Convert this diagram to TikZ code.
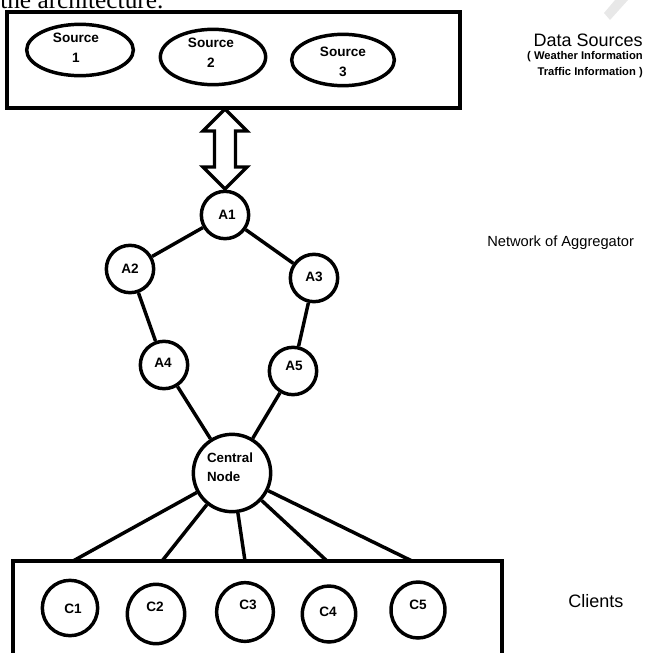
\documentclass[tikz,border=0pt]{standalone}
\usepackage{fontspec}
\setmainfont{Liberation Sans}
\newfontfamily\serifcut{Liberation Serif}
\usetikzlibrary{shapes.geometric,calc}
\begin{document}
\begin{tikzpicture}[x=0.75pt,y=-0.75pt,
  lw/.style={line width=2.6pt},
  box/.style={draw,lw,rectangle,inner sep=0pt},
  oval/.style={draw,lw,ellipse,inner sep=0pt},
  agg/.style={draw,lw,circle,inner sep=0pt,minimum size=35.5pt},
  client/.style={draw,lw,ellipse,inner sep=0pt},
  link/.style={lw},
  ntext/.style={font=\bfseries\fontsize{10.2}{15}\selectfont,align=center,inner sep=0pt},
  ltext/.style={font=\bfseries\fontsize{10}{14}\selectfont,align=left,inner sep=0pt},
  bigside/.style={font=\fontsize{13.5}{15}\selectfont,inner sep=0pt},
  midside/.style={font=\fontsize{11}{13}\selectfont,inner sep=0pt},
  smallside/.style={font=\bfseries\fontsize{8.4}{10}\selectfont,inner sep=0pt},
]
\useasboundingbox (0,0) rectangle (646,653);
\clip (0,0) rectangle (646,653);

% cut-off text line and watermark
\node[anchor=base west,inner sep=0pt,font=\serifcut\fontsize{19}{19}\selectfont] (cuttext) at (0,8) {the architecture.};
\fill[gray!18] (615,0) -- (628,0) -- (610,20) -- (604,13) -- cycle;

% data sources box
\node[box,minimum width=339.75pt,minimum height=72pt] (srcbox) at (233.5,60) {};
\node[oval,minimum width=80pt,minimum height=38.5pt] (s1) at (80,50) {};
\node[oval,minimum width=79pt,minimum height=41.5pt] (s2) at (213,57) {};
\node[oval,minimum width=77pt,minimum height=38.5pt] (s3) at (343,60) {};
\node[ntext] (s1t) at (76,48) {Source\\1};
\node[ntext] (s2t) at (211,53) {Source\\2};
\node[ntext] (s3t) at (343,62) {Source\\3};

% aggregators
\node[agg] (a1) at (225,215) {};
\node[agg] (a2) at (130,269) {};
\node[agg] (a3) at (314,278) {};
\node[agg] (a4) at (164,365) {};
\node[agg] (a5) at (293,371) {};
\node[draw,lw,circle,inner sep=0pt,minimum size=58pt] (cn) at (232,473) {};
\node[ntext] (a1t) at (227,215) {A1};
\node[ntext] (a2t) at (130,269) {A2};
\node[ntext] (a3t) at (314,277) {A3};
\node[ntext] (a4t) at (163,363) {A4};
\node[ntext] (a5t) at (294,366) {A5};
\node[ltext] (cnt) at (230,467) {Central\\Node};

% double arrow between source box and A1
\coordinate (atop) at (225,109);
\draw[lw,line join=miter,fill=white] (atop) -- ++(22,22) -- ++(-11.5,0) -- ++(0,36) -- ++(11.5,0) -- ++(-22,22) -- ++(-22,-22) -- ++(11.5,0) -- ++(0,-36) -- ++(-11.5,0) -- cycle;

\draw[link] (a1) -- (a2);
\draw[link] (a1) -- (a3);
\draw[link] (a2) -- (a4);
\draw[link] (a3) -- (a5);
\draw[link] (a4) -- (cn);
\draw[link] (a5) -- (cn);

% clients box
\node[box,minimum width=366.75pt,minimum height=104.25pt] (cbox) at (257.5,630.5) {};
\coordinate (e1) at (73,561);
\coordinate (e2) at (162,561);
\coordinate (e3) at (245,561);
\coordinate (e4) at (327,561);
\coordinate (e5) at (412,561);
\foreach \e in {e1,e2,e3,e4,e5} \draw[link] (cn) -- (\e);

\node[client,minimum width=41.5pt,minimum height=41.5pt] (c1) at (70,608) {};
\node[client,minimum width=43pt,minimum height=44.5pt] (c2) at (156,614) {};
\node[client,minimum width=42.5pt,minimum height=44pt] (c3) at (245,612) {};
\node[client,minimum width=40pt,minimum height=42pt] (c4) at (329,614) {};
\node[client,minimum width=40.5pt,minimum height=42pt] (c5) at (418,610) {};
\node[ntext] (c1t) at (73,609) {C1};
\node[ntext] (c2t) at (155,607) {C2};
\node[ntext] (c3t) at (248,605) {C3};
\node[ntext] (c4t) at (328,612) {C4};
\node[ntext] (c5t) at (418,605) {C5};

% side labels
\node[bigside,anchor=east] (dslbl) at (643,40) {Data Sources};
\node[smallside,anchor=east] (wlbl) at (643,57) {( Weather Information};
\node[smallside,anchor=east] (tlbl) at (643,73) {Traffic Information )};
\node[midside,anchor=west] (netlbl) at (487,243) {Network of Aggregator};
\node[bigside,anchor=west] (cllbl) at (568,601) {Clients};
\end{tikzpicture}
\end{document}
